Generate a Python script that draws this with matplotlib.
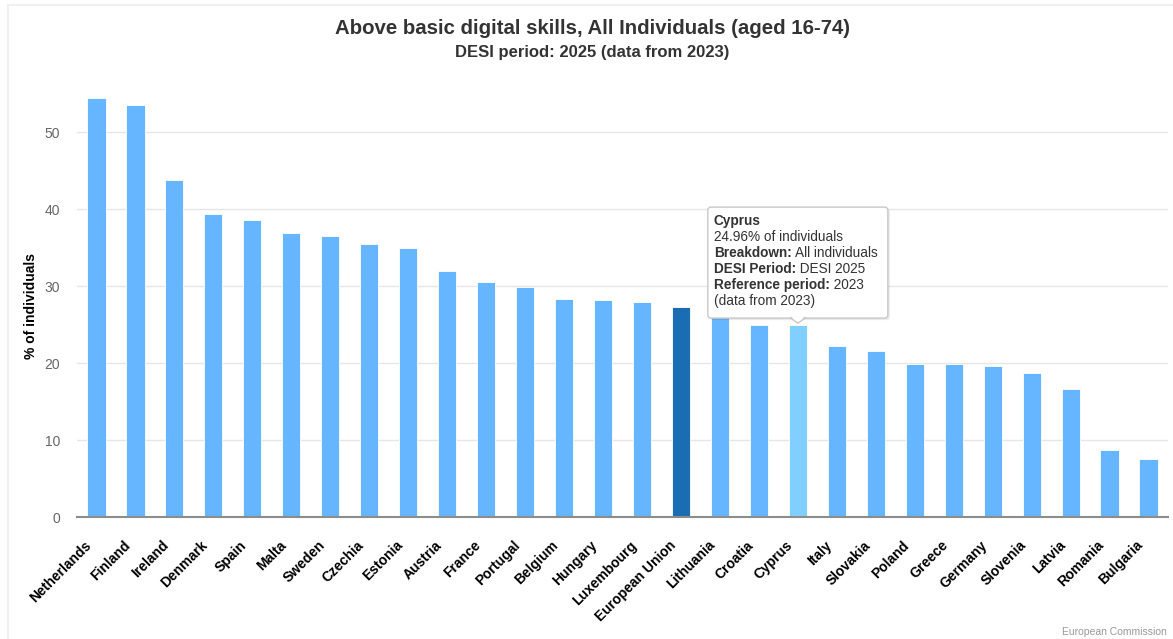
## DESI 2025 - Above basic digital skills (aged 16-74)

import numpy as np
import matplotlib
matplotlib.use("Agg")
import matplotlib.pyplot as plt
from matplotlib.patches import FancyBboxPatch, Polygon
from matplotlib.lines import Line2D
from matplotlib.transforms import IdentityTransform, ScaledTranslation

plt.rcParams['font.family'] = ['Liberation Sans', 'DejaVu Sans']

## data
countries = ['Netherlands', 'Finland', 'Ireland', 'Denmark', 'Spain', 'Malta', 'Sweden',
             'Czechia', 'Estonia', 'Austria', 'France', 'Portugal', 'Belgium', 'Hungary',
             'Luxembourg', 'European Union', 'Lithuania', 'Croatia', 'Cyprus', 'Italy',
             'Slovakia', 'Poland', 'Greece', 'Germany', 'Slovenia', 'Latvia', 'Romania',
             'Bulgaria']
values = [54.4, 53.6, 43.8, 39.4, 38.6, 36.9, 36.5, 35.5, 35.0, 32.0, 30.6, 29.9, 28.4,
          28.2, 28.0, 27.3, 26.3, 25.0, 24.96, 22.2, 21.6, 19.9, 19.9, 19.7, 18.8, 16.6,
          8.8, 7.6]
yticks = [0, 10, 20, 30, 40, 50]

highlight = 'European Union'
hovered = 'Cyprus'

## colours
c_bar = '#66b6ff'
c_eu = '#1a6db3'
c_hover = '#80cfff'

W, H = 1173, 639
fig = plt.figure(figsize=(W / 100, H / 100), dpi=100)
ax = fig.add_axes([77 / W, 121.7 / H, 1091 / W, 423.5 / H])

x = np.arange(len(countries))
colors = []
for c in countries:
    if c == highlight:
        colors.append(c_eu)
    elif c == hovered:
        colors.append(c_hover)
    else:
        colors.append(c_bar)
ax.bar(x, values, width=0.465, color=colors, edgecolor='white', linewidth=0.6, zorder=3)

ax.set_xlim(-0.5, len(countries) - 0.5)
ax.set_ylim(0, 55)
ax.set_yticks(yticks)
ax.yaxis.grid(True, color='#e6e6e6', linewidth=1, zorder=0)
ax.tick_params(axis='y', length=0, pad=12, labelsize=10, labelcolor='#666666')
ax.tick_params(axis='x', length=0, pad=4)
ax.set_xticks(x)
ax.set_xticklabels(countries, rotation=45, ha='right', rotation_mode='anchor',
                   fontsize=10, fontweight='bold', color='#000000')
shift = ScaledTranslation(-9 / 72, -11 / 72, fig.dpi_scale_trans)
for lab in ax.get_xticklabels():
    lab.set_transform(lab.get_transform() + shift)
for s in ['top', 'right', 'left']:
    ax.spines[s].set_visible(False)
ax.spines['bottom'].set_color('#8c8c8c')
ax.spines['bottom'].set_linewidth(1.5)
ax.spines['bottom'].set_zorder(4)
ax.set_ylabel('% of individuals', fontsize=10, fontweight='bold', color='#000000', labelpad=5)

## titles
fig.text(0.505, 1 - 28 / H, 'Above basic digital skills, All Individuals (aged 16-74)',
         ha='center', va='center', fontsize=14.7, fontweight='bold', color='#333333')
fig.text(0.505, 1 - 52 / H, 'DESI period: 2025 (data from 2023)',
         ha='center', va='center', fontsize=12, fontweight='bold', color='#333333')
fig.text(1167 / W, 1 - 632 / H, 'European Commission', ha='right', va='center',
         fontsize=7.5, color='#999999')

## faint frame
fig.add_artist(Line2D([8 / W, 8 / W], [0, 1 - 5 / H], color='#eeeeee', lw=1.2))
fig.add_artist(Line2D([8 / W, 1], [1 - 5 / H, 1 - 5 / H], color='#eeeeee', lw=1.2))

## tooltip for the hovered bar
i = countries.index(hovered)
px, py = ax.transData.transform((i, values[i]))
tip_y = py + 2
bx0, bx1 = px - 90, px + 90
by0, by1 = tip_y + 5, tip_y + 116
shadow = FancyBboxPatch((bx0 + 2, by0 - 2), bx1 - bx0, by1 - by0,
                        boxstyle='round,pad=0,rounding_size=3', transform=IdentityTransform(),
                        facecolor='#000000', alpha=0.08, edgecolor='none', zorder=9)
fig.add_artist(shadow)
box = FancyBboxPatch((bx0, by0), bx1 - bx0, by1 - by0,
                     boxstyle='round,pad=0,rounding_size=3', transform=IdentityTransform(),
                     facecolor='white', edgecolor='#c8c8c8', linewidth=1, zorder=10)
fig.add_artist(box)
arrow = Polygon([[px - 8, by0 + 0.5], [px, tip_y], [px + 8, by0 + 0.5]], closed=True,
                transform=IdentityTransform(), facecolor='white', edgecolor='#c8c8c8',
                linewidth=1, zorder=10)
fig.add_artist(arrow)
fig.add_artist(Polygon([[px - 7, by0 + 1.5], [px, tip_y + 1.5], [px + 7, by0 + 1.5]],
                       closed=True, transform=IdentityTransform(), facecolor='white',
                       edgecolor='none', zorder=11))

tip_lines = [('Cyprus', ''),
             ('', '%.2f%% of individuals' % values[i]),
             ('Breakdown:', ' All individuals'),
             ('DESI Period:', ' DESI 2025'),
             ('Reference period:', ' 2023'),
             ('', '(data from 2023)')]
fig.canvas.draw()
renderer = fig.canvas.get_renderer()
ty = by1 - 14
for bold, normal in tip_lines:
    tx = bx0 + 6
    if bold:
        t = fig.text(tx, ty, bold, transform=IdentityTransform(), fontsize=9.8, fontweight='bold',
                     color='#333333', va='center', ha='left', zorder=12)
        tx = t.get_window_extent(renderer).x1
    if normal:
        fig.text(tx, ty, normal, transform=IdentityTransform(), fontsize=9.8, color='#333333',
                 va='center', ha='left', zorder=12)
    ty -= 16

fig.savefig('out.png', dpi=100)
